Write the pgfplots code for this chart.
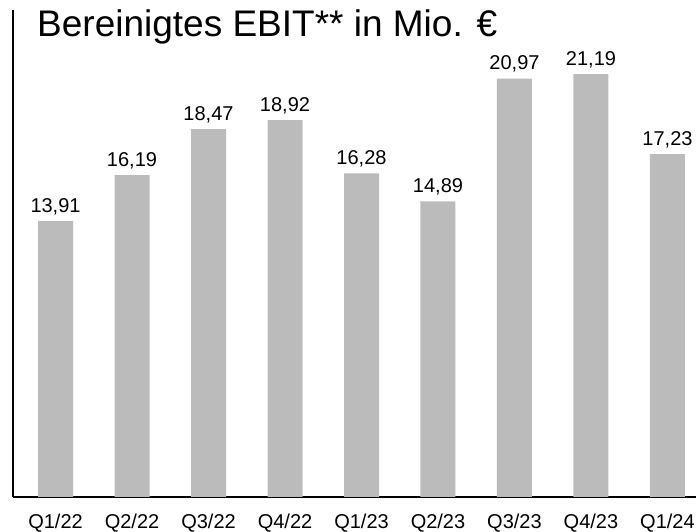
\documentclass[border=0pt]{standalone}
\usepackage{fontspec}
\setmainfont{Liberation Sans}
\usepackage{pgfplots}
\pgfplotsset{compat=1.18}
\definecolor{bargray}{RGB}{187,187,187}
\begin{document}
\begin{tikzpicture}[x=1pt,y=1pt]
\begin{axis}[
  scale only axis,
  width=683pt, height=487pt,
  xmin=-0.556, xmax=8.373,
  ymin=0.248, ymax=24.37,
  axis x line=bottom, axis y line=left,
  axis line style={line width=1.5pt, black, -},
  xtick=data,
  xticklabels={Q1/22,Q2/22,Q3/22,Q4/22,Q1/23,Q2/23,Q3/23,Q4/23,Q1/24},
  xticklabel style={font=\fontsize{20}{24}\selectfont, anchor=base, yshift=-32pt, inner sep=0pt},
  major tick length=0pt,
  ytick=\empty,
  ybar, bar width=35pt, bar shift=0pt,
  /pgf/number format/.cd, fixed, fixed zerofill, precision=2, use comma, assume math mode=true,
  /pgfplots/.cd,
  nodes near coords,
  every node near coord/.style={font=\fontsize{20}{24}\selectfont, anchor=base, yshift=9pt, inner sep=0pt, black},
]
\addplot[fill=bargray, draw=none] coordinates {
(0,13.91) (1,16.19) (2,18.47) (3,18.92) (4,16.28) (5,14.89) (6,20.97) (7,21.19) (8,17.23)
};
\end{axis}
\node[anchor=base west, inner sep=0pt, font=\fontsize{37}{40}\selectfont] at (24,460) {Bereinigtes EBIT** in Mio. €};
\pgfresetboundingbox
\path[use as bounding box] (-13,-35) rectangle (683,497);
\end{tikzpicture}
\end{document}
